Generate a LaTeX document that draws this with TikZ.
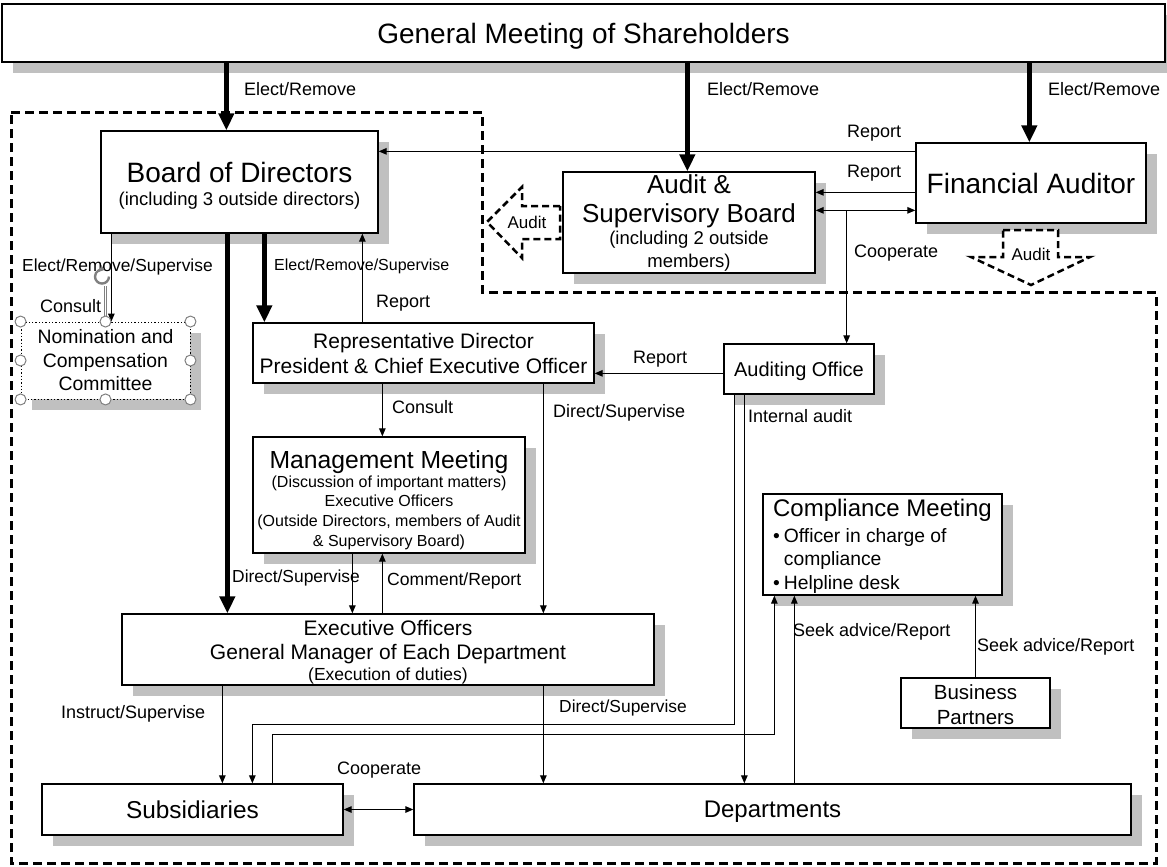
\documentclass[tikz,border=0pt]{standalone}
\usepackage{fontspec}
\setmainfont{Liberation Sans}
\usetikzlibrary{arrows.meta,calc}
\definecolor{shadowgray}{RGB}{192,192,192}
\definecolor{handlegray}{RGB}{128,128,128}
% #1 options, #2 name, #3 x, #4 y, #5 width, #6 height, #7 text
\newcommand\orgbox[7][]{%
  \node[shbox,minimum width=#5,minimum height=#6] at ({#3+11},{#4+11}) {};
  \node[mainbox,minimum width=#5,minimum height=#6,#1] (#2) at (#3,#4) {#7};}
\begin{document}
\begin{tikzpicture}[x=1pt,y=-1pt,
  mainbox/.style={draw,fill=white,line width=1.3pt,inner sep=0pt,align=center},
  shbox/.style={fill=shadowgray,inner sep=0pt},
  conn/.style={line width=1.2pt,-{Triangle[length=8pt,width=6.5pt]}},
  biconn/.style={line width=1.2pt,{Triangle[length=8pt,width=6.5pt]}-{Triangle[length=8pt,width=6.5pt]}},
  bigarrow/.style={line width=5pt,-{Triangle[length=17pt,width=15pt]}},
  lbl/.style={inner sep=0pt,anchor=west,font=\fontsize{18}{21}\selectfont,text height=13pt,text depth=0pt},
  outerborder/.style={line width=3pt,dash pattern=on 9pt off 5pt},
  auditarrow/.style={line width=2.5pt,dash pattern=on 7pt off 4pt,fill=white},
  handle/.style={draw=handlegray,fill=white,line width=1pt},
]
\useasboundingbox (0,0) rectangle (1167,867);

% outer dashed border
\draw[outerborder] (11,112) -- (482,112) -- (482,292) -- (1156,292) -- (1156,863) -- (11,863) -- cycle;

% boxes
\orgbox[font=\fontsize{28}{30}\selectfont,text depth=0pt]{gm}{583.5}{33}{1163}{58}{General Meeting of Shareholders}
\orgbox[font=\fontsize{18.5}{23}\selectfont]{board}{239.5}{182}{277}{102}{{\fontsize{28}{30}\selectfont\rule{0pt}{28.5pt}Board of Directors}\\(including 3 outside directors)}
\orgbox[font=\fontsize{18.5}{22.5}\selectfont]{audit}{689}{222.5}{252}{101}{{\fontsize{26}{28}\selectfont Audit \&}\\[6.5pt]{\fontsize{26}{28}\selectfont Supervisory Board}\\(including 2 outside\\members)}
\orgbox[font=\fontsize{28}{30}\selectfont]{fa}{1031}{183}{230}{80}{Financial Auditor}
\orgbox[font=\fontsize{19.4}{23.5}\selectfont,dotted,line width=0.9pt]{nom}{105.5}{360.5}{169}{77}{Nomination and\\Compensation\\Committee}
\orgbox[font=\fontsize{21}{25}\selectfont]{rep}{423.5}{353}{341}{60}{Representative Director\\President \& Chief Executive Officer}
\orgbox[font=\fontsize{20}{24}\selectfont,text depth=0pt]{ao}{799}{369}{150}{50}{Auditing Office}
\orgbox[font=\fontsize{16}{19.7}\selectfont]{mm}{389}{495}{272}{116}{{\fontsize{24.7}{27}\selectfont\rule{0pt}{28pt}Management Meeting}\\[-0.8pt](Discussion of important matters)\\Executive Officers\\(Outside Directors, members of Audit\\\& Supervisory Board)}
\orgbox[font=\fontsize{17.5}{21.5}\selectfont]{exec}{388}{649.5}{532}{71}{{\fontsize{21}{24}\selectfont\rule{0pt}{20.5pt}Executive Officers}\\[2.5pt]{\fontsize{21}{24}\selectfont General Manager of Each Department}\\(Execution of duties)}
\orgbox[font=\fontsize{19.3}{23}\selectfont,align=left]{comp}{882.5}{544.5}{239}{101}{{\fontsize{24}{26}\selectfont\rule{0pt}{21.5pt}Compliance Meeting}\\[3.4pt]\textbullet\hspace{4pt}Officer in charge of\\\hphantom{\textbullet\hspace{4pt}}compliance\\[1pt]\textbullet\hspace{4pt}Helpline desk}
\orgbox[font=\fontsize{20.5}{25}\selectfont]{bp}{975.5}{703}{149}{50}{\rule{0pt}{18pt}Business\\Partners}
\orgbox[font=\fontsize{24.4}{27}\selectfont]{subs}{192.5}{809.5}{301}{51}{Subsidiaries}
\orgbox[font=\fontsize{24}{27}\selectfont,text depth=0pt]{dept}{772.5}{809.5}{717}{51}{Departments}

% audit block arrows
\draw[auditarrow] (560,206) -- (522,206) -- (522,187) -- (487,222) -- (522,258) -- (522,239) -- (560,239) -- cycle;
\node[inner sep=0pt,font=\fontsize{17}{20}\selectfont] (auditL) at (527,222) {Audit};
\draw[auditarrow] (1003,230) -- (1058,230) -- (1058,257) -- (1090,257) -- (1031,285) -- (971,257) -- (1003,257) -- cycle;
\node[inner sep=0pt,font=\fontsize{17}{20}\selectfont] (auditD) at (1031,254) {Audit};

% thick arrows
\draw[bigarrow] ([xshift=126]board.north west |- gm.south) -- ([xshift=126]board.north west);
\draw[bigarrow] ([xshift=125]audit.north west |- gm.south) -- ([xshift=125]audit.north west);
\draw[bigarrow] ([xshift=114]fa.north west |- gm.south) -- ([xshift=114]fa.north west);
\draw[bigarrow] ([xshift=127]board.south west) -- ([xshift=127]board.south west |- exec.north);
\draw[bigarrow] ([xshift=164]board.south west) -- ([xshift=164]board.south west |- rep.north);

% thin connectors
\draw[conn] ([yshift=-9]fa.north west) -- ([yshift=-9]fa.north west -| board.east);
\draw[conn] ([yshift=-50]fa.north west) -- ([yshift=-50]fa.north west -| audit.east);
\draw[biconn] ([yshift=-39]audit.north east) -- ([yshift=-39]audit.north east -| fa.west);
\coordinate (coop) at ([xshift=31,yshift=-39]audit.north east);
\draw[conn] (coop) -- (coop |- ao.north);
\draw[conn] ([xshift=11]board.south west) -- ([xshift=11]board.south west |- nom.north);
\draw[conn] ([xshift=110]rep.north west) -- ([xshift=110]rep.north west |- board.south);
\draw[conn] ([yshift=-30]ao.north west) -- ([yshift=-30]ao.north west -| rep.east);
\draw[conn] ([xshift=130]rep.south west) -- ([xshift=130]rep.south west |- mm.north);
\draw[conn] ([xshift=291]rep.south west) -- ([xshift=291]rep.south west |- exec.north);
\draw[conn] ([xshift=100]mm.south west) -- ([xshift=100]mm.south west |- exec.north);
\draw[conn] ([xshift=130]mm.south west |- exec.north) -- ([xshift=130]mm.south west);
\draw[conn] ([xshift=101]exec.south west) -- ([xshift=101]exec.south west |- subs.north);
\draw[conn] ([xshift=422]exec.south west) -- ([xshift=422]exec.south west |- dept.north);
\draw[conn] ([xshift=11]ao.south west) -- ++(0,330) -| ([xshift=211]subs.north west);
\draw[conn] ([xshift=21]ao.south west) -- ([xshift=21]ao.south west |- dept.north);
\draw[conn] ([xshift=231]subs.north west) -- ++(0,-49) -| ([xshift=12]comp.south west);
\draw[conn] ([xshift=32]comp.south west |- dept.north) -- ([xshift=32]comp.south west);
\draw[conn] (bp.north) -- (bp.north |- comp.south);
\draw[biconn] (subs.east) -- (dept.west);

% labels
\node[lbl] (lgm1) at (244,89) {Elect/Remove};
\node[lbl] (lgm2) at (707,89) {Elect/Remove};
\node[lbl] (lgm3) at (1048,89) {Elect/Remove};
\node[lbl] (lrep1) at (847,131) {Report};
\node[lbl] (lrep2) at (847,171) {Report};
\node[lbl] (lcoop1) at (854,251) {Cooperate};
\node[lbl,font=\fontsize{17.4}{21}\selectfont] (lers1) at (22,265) {Elect/Remove/Supervise};
\node[lbl] (lcons1) at (40,306) {Consult};
\node[lbl,font=\fontsize{16}{20}\selectfont] (lers2) at (274,264) {Elect/Remove/Supervise};
\node[lbl] (lrep3) at (376,301) {Report};
\node[lbl] (lrep4) at (633,357) {Report};
\node[lbl] (lcons2) at (392,407) {Consult};
\node[lbl] (lds1) at (553,411) {Direct/Supervise};
\node[lbl] (lia) at (748,416) {Internal audit};
\node[lbl,font=\fontsize{17.4}{21}\selectfont] (lds2) at (232,576) {Direct/Supervise};
\node[lbl,font=\fontsize{17.6}{21}\selectfont] (lcr) at (387,579) {Comment/Report};
\node[lbl] (lsar1) at (793,630) {Seek advice/Report};
\node[lbl] (lsar2) at (977,645) {Seek advice/Report};
\node[lbl] (lis) at (61,712) {Instruct/Supervise};
\node[lbl,font=\fontsize{17.4}{21}\selectfont] (lds3) at (559,706) {Direct/Supervise};
\node[lbl] (lcoop2) at (337,768) {Cooperate};

% selection handles of the nomination box
\draw[handlegray,double=white,double distance=1.5pt,line width=0.8pt] (nom.north) -- ++(0,-36);
\draw[handlegray,line width=2.4pt,-{Triangle[length=4.5pt,width=7pt]}] ([shift={(3.5,-45)}]nom.north) arc[start angle=0,end angle=290,radius=7];
\foreach \a in {north west,north,north east,west,east,south west,south,south east}
  \draw[handle] (nom.\a) circle[radius=5.5];
\end{tikzpicture}
\end{document}
